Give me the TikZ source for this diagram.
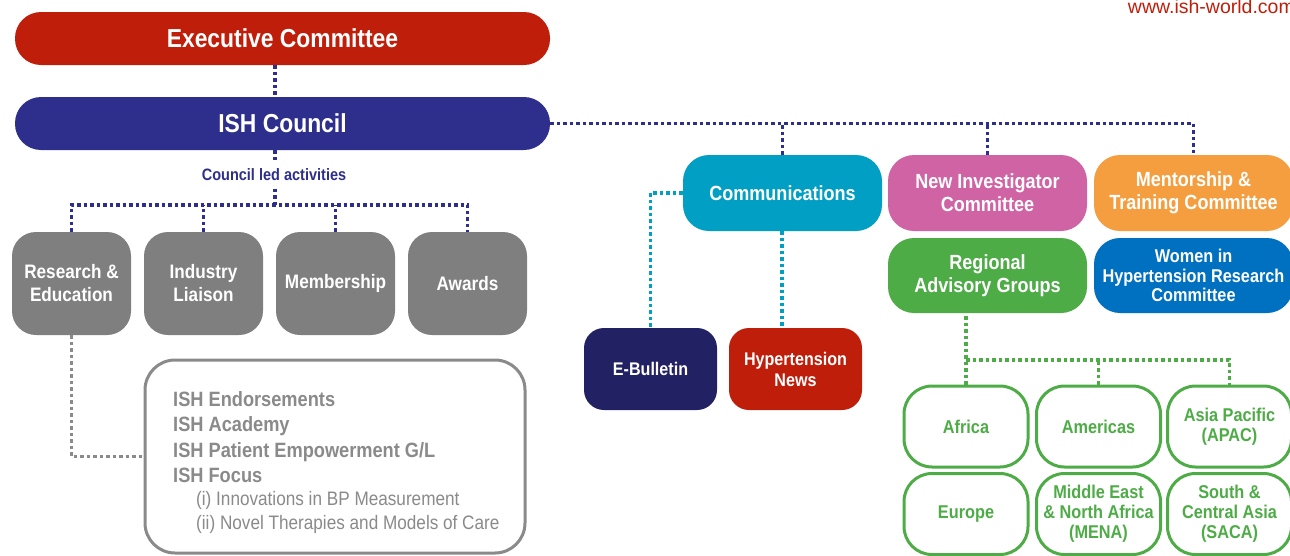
\documentclass[tikz,border=0pt]{standalone}
\usepackage{fontspec}
\setmainfont[FakeStretch=0.88]{Liberation Sans}
\newfontfamily\urlfont{Liberation Sans}
\definecolor{exred}{HTML}{BF1E0A}
\definecolor{cblue}{HTML}{2E2F8C}
\definecolor{agray}{HTML}{7F7F7F}
\definecolor{lgray}{HTML}{8A8A8A}
\definecolor{teal}{HTML}{009FC3}
\definecolor{navy}{HTML}{222163}
\definecolor{pink}{HTML}{D063A4}
\definecolor{orng}{HTML}{F59E3F}
\definecolor{grn}{HTML}{4EAC47}
\definecolor{wblue}{HTML}{0070C0}
\tikzset{
  pill/.style={rectangle, rounded corners=26pt, inner sep=0pt, text=white,
    font=\bfseries\fontsize{26}{30}\selectfont},
  gbox/.style={rectangle, rounded corners=24pt, inner sep=0pt, fill=agray, text=white, align=center,
    minimum width=119pt, minimum height=103pt, font=\bfseries\fontsize{19.5}{23}\selectfont},
  cbox/.style={rectangle, rounded corners=26pt, inner sep=0pt, text=white, align=center,
    minimum width=199pt, minimum height=76pt, font=\bfseries\fontsize{20.5}{23}\selectfont},
  sbox/.style={rectangle, rounded corners=20pt, inner sep=0pt, text=white, align=center,
    minimum width=133pt, minimum height=82pt, font=\bfseries\fontsize{18.3}{21}\selectfont},
  rbox/.style={rectangle, rounded corners=28pt, inner sep=0pt, draw=grn, line width=3pt, fill=white,
    text=grn, align=center, minimum width=124pt, minimum height=81pt,
    font=\bfseries\fontsize{18.5}{20}\selectfont},
  dotline/.style={line width=3.5pt, dash pattern=on 3.5pt off 3pt},
  bdot/.style={dotline, draw=cblue},
  tdot/.style={dotline, draw=teal},
  gdot/.style={dotline, draw=lgray},
  grdot/.style={dotline, draw=grn},
}
\begin{document}
\begin{tikzpicture}[x=1pt,y=-1pt]
\useasboundingbox (0,0) rectangle (1290,555);
% URL
\node[anchor=north east, inner sep=0pt, text=exred, font=\urlfont\fontsize{19.5}{22}\selectfont] (url) at (1295,-1) {www.ish-world.com};
% top
\node[pill, fill=exred, minimum width=535pt, minimum height=53pt] (exec) at (282.5,38.5) {Executive Committee};
\node[pill, fill=cblue, minimum width=535pt, minimum height=53pt] (council) at (282.5,123.5) {ISH Council};
\draw[bdot] (exec.south -| 275,0) -- (council.north -| 275,0);
\node[text=cblue, inner sep=0pt, minimum height=27pt, font=\bfseries\fontsize{16.5}{18}\selectfont] (cla) at (274,175) {Council led activities};
% gray boxes
\node[gbox] (res) at (71.5,283.5) {Research \&\\Education};
\node[gbox] (ind) at (203.5,283.5) {Industry\\Liaison};
\node[gbox] (mem) at (335.5,283.5) {Membership};
\node[gbox] (awd) at (467.5,283.5) {Awards};
\draw[bdot] (council.south -| 275,0) -- (cla.north -| 275,0);
\draw[bdot] (cla.south -| 275,0) -- (275,205);
\draw[bdot] (res.north) -- ++(0,-27) -| (awd.north);
\draw[bdot] (ind.north) -- ++(0,-27);
\draw[bdot] (mem.north) -- ++(0,-27);
% endorsements
\node[rectangle, rounded corners=30pt, draw=lgray, line width=3pt, fill=white,
  minimum width=380pt, minimum height=193pt, inner sep=0pt] (endo) at (335,456.5) {};
\node[anchor=north west, inner sep=0pt, text=lgray, align=left, font=\bfseries\fontsize{20.7}{25.5}\selectfont] (endotxt) at (173,391)
  {ISH Endorsements\\ISH Academy\\ISH Patient Empowerment G/L\\ISH Focus};
\node[anchor=north west, inner sep=0pt, text=lgray, align=left, font=\fontsize{19.5}{24}\selectfont] (focus) at (196,491)
  {(i) Innovations in BP Measurement\\(ii) Novel Therapies and Models of Care};
\draw[gdot] (res.south) |- (endo.west);
% right side
\node[cbox, fill=teal] (comm) at (782.5,193) {Communications};
\node[cbox, fill=pink] (newinv) at (987.5,193) {New Investigator\\Committee};
\node[cbox, fill=orng] (ment) at (1193.5,193) {Mentorship \&\\Training Committee};
\node[cbox, fill=grn, minimum height=75pt] (rag) at (987.5,275.5) {Regional\\Advisory Groups};
\node[cbox, fill=wblue, minimum height=75pt, font=\bfseries\fontsize{18.5}{19.5}\selectfont] (wih) at (1193.5,275.5) {Women in\\Hypertension Research\\Committee};
\draw[bdot] (council.east) -- (ment.north |- council.east) -- (ment.north);
\draw[bdot] (comm.north) -- (comm.north |- council.east);
\draw[bdot] (newinv.north) -- (newinv.north |- council.east);
\node[sbox, fill=navy] (eb) at (650.5,369) {E-Bulletin};
\node[sbox, fill=exred] (hn) at (795.5,369) {Hypertension\\News};
\draw[tdot] (comm.west) -| (eb.north);
\draw[tdot] (comm.south -| 782,0) -- (hn.north -| 782,0);
% regions
\node[rbox] (afr) at (966,426.5) {Africa};
\node[rbox] (ame) at (1098.5,426.5) {Americas};
\node[rbox] (apac) at (1229.5,426.5) {Asia Pacific\\(APAC)};
\node[rbox] (eur) at (966,514) {Europe};
\node[rbox] (mena) at (1098.5,514) {Middle East\\\& North Africa\\(MENA)};
\node[rbox] (saca) at (1229.5,514) {South \&\\Central Asia\\(SACA)};
\draw[grdot] (afr.north) -- (afr.north |- rag.south);
\draw[grdot] (afr.north |- 0,360) -| (apac.north);
\draw[grdot] (ame.north) -- (ame.north |- 0,360);
\end{tikzpicture}
\end{document}
